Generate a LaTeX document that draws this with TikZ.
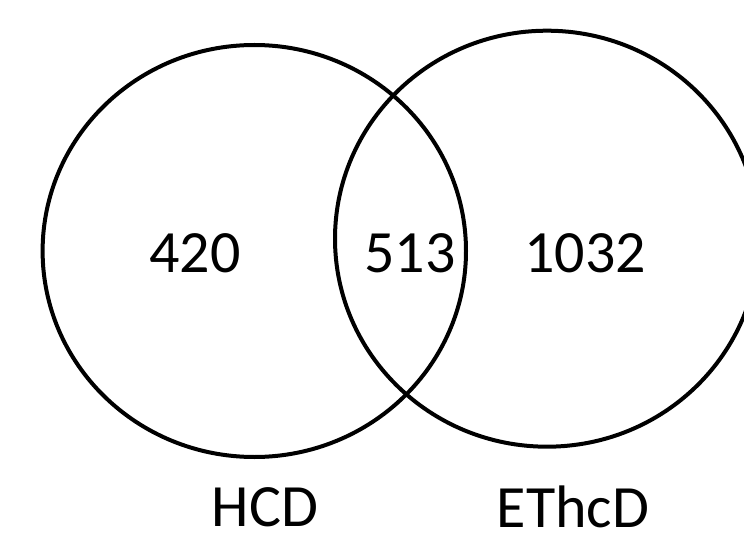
\documentclass[tikz,border=0pt]{standalone}
\usepackage{fontspec}
\setmainfont{Carlito}
\tikzset{
  setring/.style={draw=black, line width=4pt},
  count/.style={font=\fontsize{60}{72}\selectfont, inner sep=0pt, anchor=center},
  setname/.style={font=\fontsize{60}{72}\selectfont, inner sep=0pt, anchor=center}
}
\begin{document}
\begin{tikzpicture}[x=1pt, y=-1pt]
  \useasboundingbox (0,0) rectangle (744,540);
  \begin{scope}
    \clip (0,0) rectangle (744,540);
    % the two sets
    \draw[setring] (254.3,251) ellipse [x radius=211.7, y radius=206];
    \draw[setring] (547,238.7) ellipse [x radius=212, y radius=208];
  \end{scope}
  % region counts
  \node[count] (onlyhcd) at (195,253) {420};
  \node[count] (both) at (410,253) {513};
  \node[count] (onlyethcd) at (585,253) {1032};
  % set names
  \node[setname] (hcd) at (265,507) {HCD};
  \node[setname] (ethcd) at (573,507) {EThcD};
\end{tikzpicture}
\end{document}
